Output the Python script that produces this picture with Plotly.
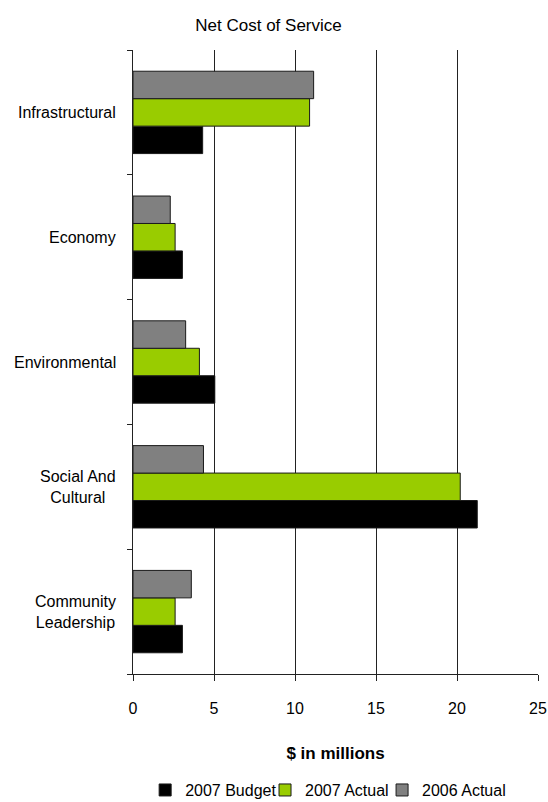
import plotly.graph_objects as go

# Service areas, listed top to bottom
categories = ["Infrastructural", "Economy", "Environmental",
              "Social And<br>Cultural", "Community<br>Leadership"]

# Net cost of service, $ millions
budget_2007 = [4.3, 3.05, 5.05, 21.25, 3.05]
actual_2007 = [10.9, 2.6, 4.1, 20.2, 2.6]
actual_2006 = [11.15, 2.3, 3.25, 4.35, 3.6]

x_ticks = [0, 5, 10, 15, 20, 25]

FONT = "Liberation Sans, Arial, sans-serif"

# name, values, fill colour, legend id, legend left edge (paper x)
series = [
    ("2007 Budget", budget_2007, "#000000", "legend", 0.030),
    ("2007 Actual", actual_2007, "#99cc00", "legend2", 0.326),
    ("2006 Actual", actual_2006, "#808080", "legend3", 0.615),
]

fig = go.Figure()
legends = {}
for name, vals, color, leg, lx in series:
    fig.add_trace(go.Bar(
        y=categories, x=vals, name=name, orientation="h", legend=leg,
        marker=dict(color=color, line=dict(color="#1a1a1a", width=1)),
    ))
    legends[leg] = dict(
        orientation="h", x=lx, xanchor="left", xref="paper",
        y=-0.186, yanchor="middle", bgcolor="rgba(0,0,0,0)",
        font=dict(family=FONT, size=16), itemwidth=30,
    )

# Category labels: right-anchored blocks with centred lines
for cat in categories:
    fig.add_annotation(
        x=-15 / 405, xref="paper", y=cat, yref="y",
        text=cat, showarrow=False, xanchor="right", align="center",
        font=dict(family=FONT, size=16, color="#000000"),
    )

fig.update_layout(
    width=548, height=802,
    margin=dict(l=133, r=10, t=50, b=128, autoexpand=False),
    paper_bgcolor="white", plot_bgcolor="white",
    barmode="group", bargap=0.34, bargroupgap=0,
    font=dict(family=FONT, size=16, color="#000000"),
    title=dict(text="Net Cost of Service", x=0.49, xanchor="center",
               y=0.969, yanchor="middle",
               font=dict(family=FONT, size=17, color="#000000")),
    showlegend=True,
    xaxis=dict(
        range=[0, 25], tickvals=x_ticks, ticktext=[str(v) for v in x_ticks],
        automargin=False,
        showgrid=True, gridcolor="#222222", gridwidth=1,
        showline=True, linecolor="#222222", linewidth=1,
        ticks="outside", ticklen=6, tickcolor="#222222",
        ticklabelstandoff=14, zeroline=False,
        tickfont=dict(family=FONT, size=16),
        title=dict(text="<b>$ in millions</b>", standoff=30,
                   font=dict(family=FONT, size=17)),
    ),
    yaxis=dict(
        categoryorder="array", categoryarray=categories[::-1],
        automargin=False,
        showticklabels=False, ticks="outside", ticklen=5,
        tickson="boundaries", tickcolor="#222222",
        showline=True, linecolor="#222222", linewidth=1,
        showgrid=False,
    ),
    **legends,
)

fig.write_html("out.html")
